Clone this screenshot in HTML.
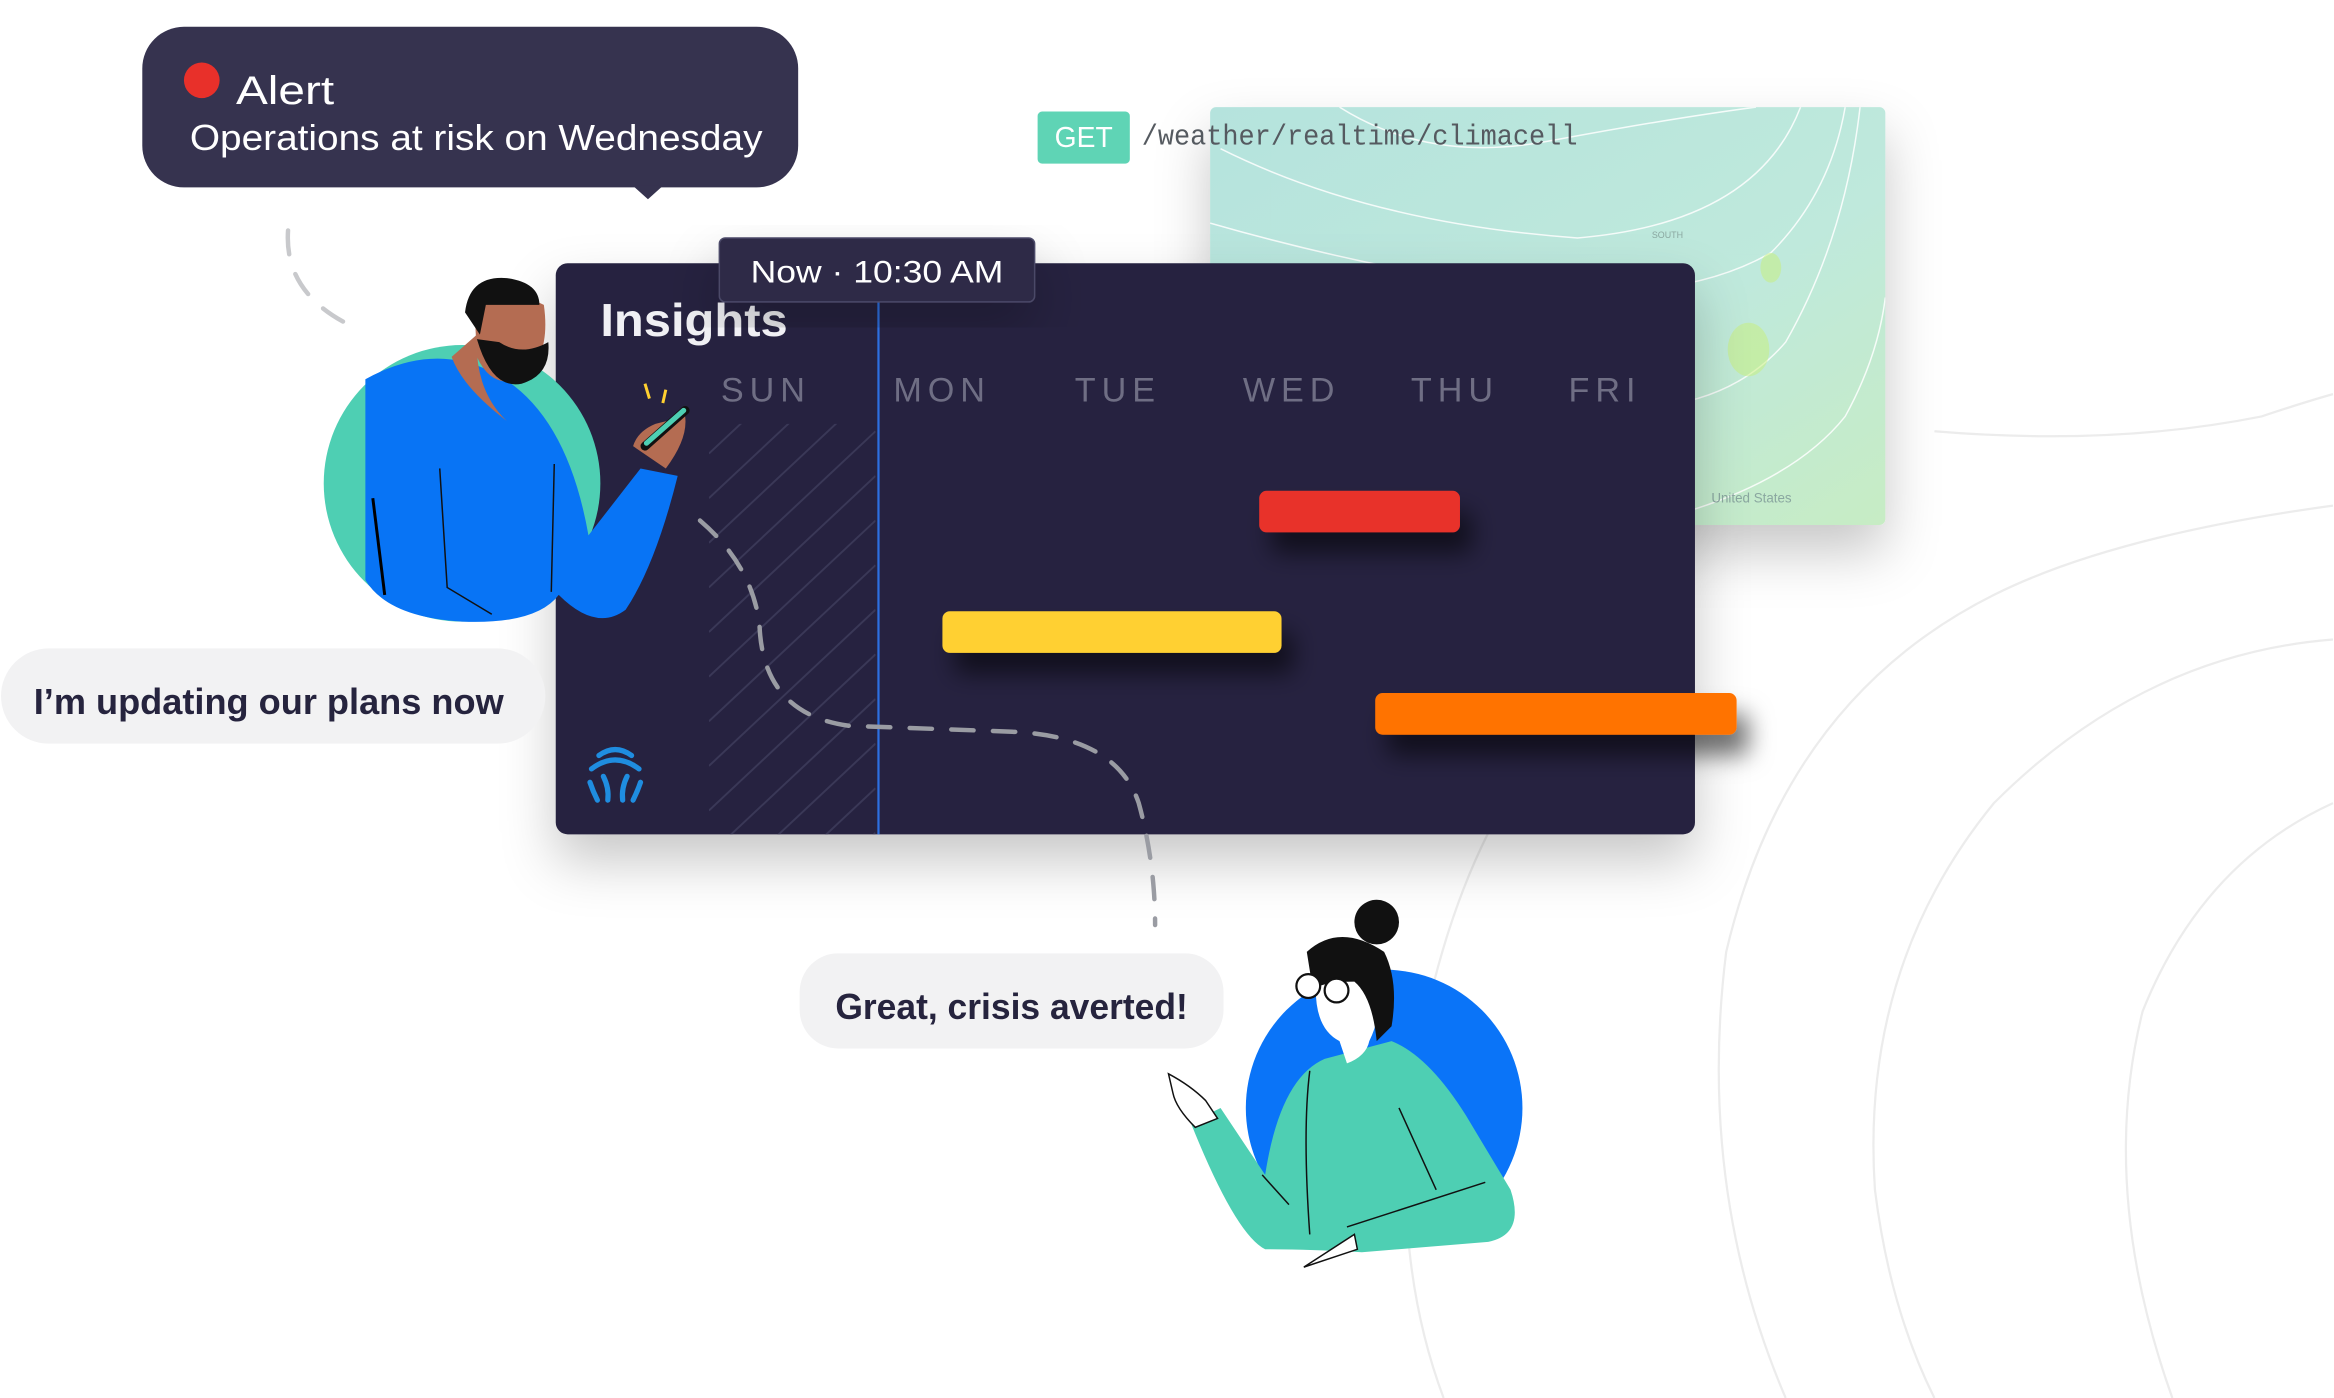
<!DOCTYPE html>
<html><head><meta charset="utf-8"><style>
html,body{margin:0;padding:0;background:#fff;overflow:hidden}
svg{display:block}
text{font-family:"Liberation Sans",sans-serif}
</style></head><body>
<svg width="2334" height="1398" viewBox="0 0 1568 940" xmlns="http://www.w3.org/2000/svg">
<defs>
<filter id="sh" x="-20%" y="-20%" width="140%" height="160%"><feDropShadow dx="0" dy="18" stdDeviation="18" flood-color="#000" flood-opacity="0.22"/></filter>
<filter id="bs" x="-30%" y="-100%" width="160%" height="400%"><feDropShadow dx="8" dy="14" stdDeviation="8" flood-color="#000" flood-opacity="0.55"/></filter>
<linearGradient id="mg" x1="0" y1="0" x2="1" y2="1"><stop offset="0" stop-color="#b5e3dd"/><stop offset="0.6" stop-color="#bfe9dc"/><stop offset="1" stop-color="#c7ecc4"/></linearGradient>
<clipPath id="mc"><rect x="813" y="72" width="454" height="281" rx="4"/></clipPath>
<clipPath id="hc"><rect x="476" y="285" width="112" height="276"/></clipPath>
</defs>
<g fill="none" stroke="#ececec" stroke-width="1.5">
<path d="M1300 290 Q1420 300 1520 280 Q1550 270 1568 265"/>
<path d="M1000 560 Q960 640 945 760 Q940 860 970 940"/>
<path d="M1568 340 Q1420 360 1340 400 Q1200 470 1160 640 Q1140 800 1200 940"/>
<path d="M1568 430 Q1440 440 1340 540 Q1250 650 1260 800 Q1270 880 1300 940"/>
<path d="M1568 540 Q1480 580 1440 680 Q1410 800 1460 940"/>
</g>
<g filter="url(#sh)"><rect x="813" y="72" width="454" height="281" rx="4" fill="url(#mg)"/></g>
<g clip-path="url(#mc)" fill="none" stroke="#fff" stroke-width="1" opacity="0.85">
<path d="M900 72 Q960 110 1040 95 Q1120 80 1180 72"/>
<path d="M820 100 Q920 150 1060 160 Q1180 150 1210 72"/>
<path d="M813 150 Q900 175 990 190 Q1120 210 1190 170 Q1230 130 1240 72"/>
<path d="M813 210 Q900 230 1000 260 Q1140 300 1200 230 Q1240 160 1250 72"/>
<path d="M1100 353 Q1200 330 1240 280 Q1262 240 1267 200"/>
</g>
<g clip-path="url(#mc)" fill="#c8f07a" opacity="0.5"><ellipse cx="1175" cy="235" rx="14" ry="18"/><ellipse cx="1190" cy="180" rx="7" ry="10"/></g>
<text x="1150" y="338" font-size="9" fill="#8aa7a0">United States</text>
<text x="1110" y="160" font-size="6" fill="#8aa7a0">SOUTH</text>
<rect x="697" y="75" width="62" height="35" rx="3" fill="#5fd4b5"/>
<text x="728" y="99" font-size="19" fill="#fff" text-anchor="middle" style="font-family:'Liberation Sans',sans-serif">GET</text>
<text x="767" y="97" font-size="19" fill="#555a60" textLength="293" lengthAdjust="spacingAndGlyphs" style="font-family:'Liberation Mono',monospace">/weather/realtime/climacell</text>
<g filter="url(#sh)"><rect x="373" y="177" width="766" height="384" rx="8" fill="#262440"/></g>
<g clip-path="url(#hc)" stroke="#3a3857" stroke-width="1.3">
<path d="M476 305 L588 200 M476 335 L588 230 M476 365 L588 260 M476 395 L588 290 M476 425 L588 320 M476 455 L588 350 M476 485 L588 380 M476 515 L588 410 M476 545 L588 440 M476 575 L588 470 M476 605 L588 500 M476 635 L588 530 M476 665 L588 560 M476 695 L588 590"/>
</g>
<line x1="590" y1="203" x2="590" y2="561" stroke="#2d6fe0" stroke-width="1.5"/>
<text x="403" y="226" font-size="31" font-weight="bold" fill="#f0f0f4" textLength="126" lengthAdjust="spacingAndGlyphs">Insights</text>
<g font-size="23" fill="#6f6e84" letter-spacing="4">
<text x="484" y="270">SUN</text><text x="600" y="270">MON</text><text x="722" y="270">TUE</text><text x="835" y="270">WED</text><text x="948" y="270">THU</text><text x="1054" y="270">FRI</text>
</g>
<g filter="url(#bs)">
<rect x="846" y="330" width="135" height="28" rx="5" fill="#e8302a"/>
<rect x="633" y="411" width="228" height="28" rx="5" fill="#ffd030"/>
<rect x="924" y="466" width="243" height="28" rx="5" fill="#ff7300"/>
</g>
<g fill="none" stroke="#1f8de0" stroke-width="3.5" stroke-linecap="round">
<path d="M402 508 Q413 500 424 508"/><path d="M397 517 Q413 505 429 517"/>
<path d="M396 526 Q398 532 401 538"/><path d="M405 522 Q409 530 408 538"/><path d="M421 522 Q417 530 418 538"/><path d="M430 526 Q428 532 425 538"/>
</g>
<g filter="url(#sh)"><rect x="483" y="160" width="212" height="43" rx="4" fill="#2d2b47" stroke="#4b4968"/></g>
<text x="589" y="190" font-size="21" fill="#fff" text-anchor="middle" textLength="170" lengthAdjust="spacingAndGlyphs">Now · 10:30 AM</text>
<rect x="95" y="18" width="441" height="108" rx="28" fill="#36334f"/>
<path d="M425 125 L435 134 L445 125 Z" fill="#36334f"/>
<circle cx="135" cy="54" r="12" fill="#e8302a"/>
<text x="158" y="70" font-size="27" fill="#fff" textLength="66" lengthAdjust="spacingAndGlyphs">Alert</text>
<text x="127" y="101" font-size="24" fill="#fff" textLength="385" lengthAdjust="spacingAndGlyphs">Operations at risk on Wednesday</text>
<path d="M193 155 Q190 200 242 222" fill="none" stroke="#c8c9cc" stroke-width="3" stroke-dasharray="16 14" stroke-linecap="round"/>
<path d="M470 350 Q505 380 510 420 Q512 480 570 488 L680 492 Q750 495 765 540 Q776 580 776 622" fill="none" stroke="#9a9ca3" stroke-width="3" stroke-dasharray="15 13" stroke-linecap="round"/>
<circle cx="310" cy="325" r="93" fill="#4ecfb3"/>
<path d="M245 255 Q290 230 330 250 Q380 275 395 360 L430 315 L455 320 Q440 380 420 410 Q400 425 375 400 Q360 420 310 418 Q260 415 245 390 Z" fill="#0874f5"/>
<path d="M250 335 L258 400" stroke="#000" stroke-width="2"/>
<path d="M295 315 L300 395 L330 413" stroke="#111" stroke-width="1" fill="none"/>
<path d="M372 312 L370 398" stroke="#111" stroke-width="1"/>
<path d="M303 240 Q310 260 340 283 Q318 262 320 225 Z" fill="#b46c52"/>
<path d="M318 200 Q345 195 365 205 Q370 240 350 255 Q330 262 320 240 Z" fill="#b46c52"/>
<path d="M320 228 Q330 262 350 258 Q370 252 368 230 Q350 240 335 230 Z" fill="#111"/>
<path d="M312 210 Q315 185 340 187 Q362 190 362 205 L326 205 L322 225 Z" fill="#111"/>
<path d="M425 300 Q428 290 440 285 L460 280 Q462 295 447 315 Z" fill="#b46c52"/>
<line x1="433" y1="300" x2="460" y2="276" stroke="#111" stroke-width="6" stroke-linecap="round"/>
<line x1="434" y1="298" x2="459" y2="276" stroke="#4ecfb3" stroke-width="3.5" stroke-linecap="round"/>
<path d="M433 258 L436 268 M447 262 L445 271" stroke="#ffd030" stroke-width="2"/>
<rect x="0" y="436" width="366" height="64" rx="32" fill="#f2f2f3"/>
<text x="22" y="480" font-size="24" fill="#26243e" font-weight="bold" textLength="316" lengthAdjust="spacingAndGlyphs">I’m updating our plans now</text>
<rect x="537" y="641" width="285" height="64" rx="26" fill="#f2f2f3"/>
<text x="561" y="685" font-size="24" fill="#26243e" font-weight="bold" textLength="237" lengthAdjust="spacingAndGlyphs">Great, crisis averted!</text>
<circle cx="930" cy="745" r="93" fill="#0a74f8"/>
<path d="M800 755 L820 745 L850 790 Q860 725 890 712 L935 700 Q960 710 985 750 L1015 800 Q1025 830 1000 835 L915 842 Q880 840 850 840 Q830 830 800 755 Z" fill="#4ecfb3"/>
<path d="M848 790 L866 810 M880 720 Q875 760 880 830 M940 745 L965 800 M905 825 L998 795" stroke="#111" stroke-width="1" fill="none"/>
<path d="M785 722 Q800 730 810 740 L818 752 L803 758 Q790 745 788 735 Z" fill="#fff" stroke="#111" stroke-width="1"/>
<path d="M876 852 L910 830 L912 840 Z" fill="#fff" stroke="#111" stroke-width="1"/>
<path d="M885 650 Q880 690 900 700 L905 715 Q918 710 920 700 Q930 680 925 655 Z" fill="#fff"/>
<path d="M878 640 Q900 620 930 640 Q940 660 935 690 L925 700 Q922 670 910 660 Q890 660 882 665 Z" fill="#111"/>
<circle cx="925" cy="620" r="15" fill="#111"/>
<circle cx="879" cy="663" r="8" fill="#fff" stroke="#111" stroke-width="1.5"/>
<circle cx="898" cy="666" r="8" fill="#fff" stroke="#111" stroke-width="1.5"/>
</svg>
</body></html>
